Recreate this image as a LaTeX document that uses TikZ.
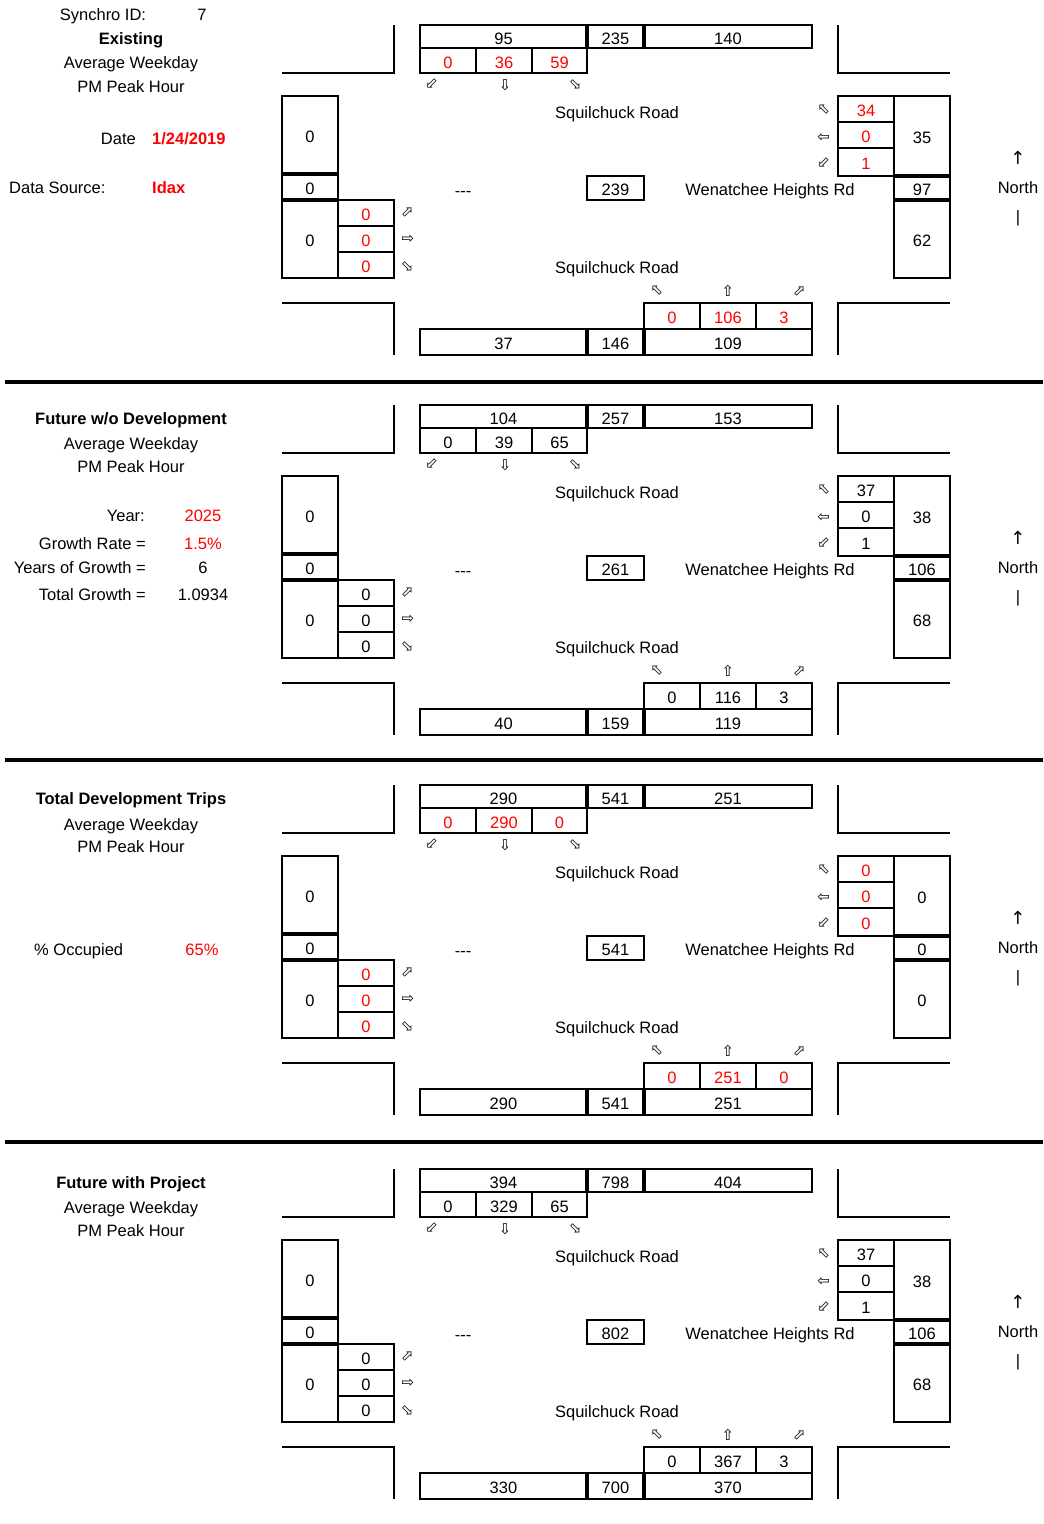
\documentclass[tikz,border=0pt]{standalone}
\usepackage{fontspec}
\setmainfont{Liberation Sans}
\newfontfamily\arrowfont{DejaVu Sans}
\definecolor{redv}{RGB}{255,0,0}
\tikzset{
  every node/.style={font=\fontsize{16.5}{18}\selectfont, inner sep=0pt, text height=15pt, text depth=0pt},
  box/.style={draw=black, line width=2pt},
  thk/.style={line width=3.6pt},
  sep/.style={line width=4pt},
  mv/.style={text=\mvcolor},
  arr/.style={font=\arrowfont\fontsize{15}{16}\selectfont, text height=10pt, text depth=0pt},
  narr/.style={font=\arrowfont\fontsize{18}{20}\selectfont, text height=13pt, text depth=0pt},
  ttl/.style={font=\fontsize{16.5}{18}\selectfont\bfseries},
  hot/.style={text=redv},
  hotb/.style={text=redv, font=\fontsize{16.5}{18}\selectfont\bfseries},
}
\def\getthree#1/#2/#3\relax{\def\xa{#1}\def\xb{#2}\def\xc{#3}}
\newcommand\cell[7][]{%
  \draw[box] (#3,#4) rectangle (#5,#6);
  \node[#1] (#2) at ({(#3+#5)/2},{(#4+#6)/2}) {#7};}
\newcommand\panel[2]{%
\begin{scope}[shift={(0,#2)}]
  % corner kerbs
  \draw[box] (394,25) -- (394,73) -- (282,73);
  \draw[box] (838,25) -- (838,73) -- (950,73);
  \draw[box] (282,303) -- (394,303) -- (394,355);
  \draw[box] (950,303) -- (838,303) -- (838,355);
  % north leg
  \expandafter\getthree\Top\relax
  \cell{#1-nin}{420}{25}{587}{48}{\xa}
  \cell{#1-ntot}{587}{25}{644}{48}{\xb}
  \cell{#1-nout}{644}{25}{812}{48}{\xc}
  \expandafter\getthree\SB\relax
  \cell[mv]{#1-sbr}{420}{48}{476}{73}{\xa}
  \cell[mv]{#1-sbt}{476}{48}{532}{73}{\xb}
  \cell[mv]{#1-sbl}{532}{48}{587}{73}{\xc}
  \draw[thk] (587,25) -- (587,48) (644,25) -- (644,48);
  % south leg
  \expandafter\getthree\NB\relax
  \cell[mv]{#1-nbl}{644}{303}{700}{329}{\xa}
  \cell[mv]{#1-nbt}{700}{303}{756}{329}{\xb}
  \cell[mv]{#1-nbr}{756}{303}{812}{329}{\xc}
  \expandafter\getthree\Bot\relax
  \cell{#1-sout}{420}{329}{587}{355}{\xa}
  \cell{#1-stot}{587}{329}{644}{355}{\xb}
  \cell{#1-sin}{644}{329}{812}{355}{\xc}
  \draw[thk] (587,329) -- (587,355) (644,329) -- (644,355);
  % west leg
  \expandafter\getthree\Wcol\relax
  \cell{#1-wout}{282}{96}{338}{174}{\xa}
  \cell{#1-wtot}{282}{174}{338}{200}{\xb}
  \cell{#1-win}{282}{200}{338}{278}{\xc}
  \expandafter\getthree\EB\relax
  \cell[mv]{#1-ebl}{338}{200}{394}{226}{\xa}
  \cell[mv]{#1-ebt}{338}{226}{394}{252}{\xb}
  \cell[mv]{#1-ebr}{338}{252}{394}{278}{\xc}
  \draw[thk] (282,174) -- (338,174) (282,200) -- (338,200);
  % east leg
  \expandafter\getthree\WB\relax
  \cell[mv]{#1-wbr}{838}{96}{894}{122}{\xa}
  \cell[mv]{#1-wbt}{838}{122}{894}{148}{\xb}
  \cell[mv]{#1-wbl}{838}{148}{894}{176}{\xc}
  \expandafter\getthree\Ecol\relax
  \cell{#1-ein}{894}{96}{950}{176}{\xa}
  \cell{#1-etot}{894}{176}{950}{200}{\xb}
  \cell{#1-eout}{894}{200}{950}{278}{\xc}
  \draw[thk] (894,176) -- (950,176) (894,200) -- (950,200);
  % centre
  \node (#1-dash) at (463,189) {-{}-{}-};
  \cell{#1-mid}{587}{176}{644}{200}{\Mid}
  % road names
  \node (#1-rdn) at (617,111) {Squilchuck Road};
  \node (#1-rds) at (617,266) {Squilchuck Road};
  \node (#1-rdw) at (770,188) {Wenatchee Heights Rd};
  % movement arrows
  \node[arr,rotate=135] (#1-asbr) at (432,84) {⇧};
  \node[arr,rotate=180] (#1-asbt) at (505,84) {⇧};
  \node[arr,rotate=-135] (#1-asbl) at (575,84) {⇧};
  \node[arr,rotate=45] (#1-awbr) at (824,110) {⇧};
  \node[arr,rotate=90] (#1-awbt) at (824,137) {⇧};
  \node[arr,rotate=135] (#1-awbl) at (824,163) {⇧};
  \node[arr,rotate=-45] (#1-aebl) at (407,212) {⇧};
  \node[arr,rotate=-90] (#1-aebt) at (407,239) {⇧};
  \node[arr,rotate=-135] (#1-aebr) at (407,266) {⇧};
  \node[arr,rotate=45] (#1-anbl) at (657,291) {⇧};
  \node[arr] (#1-anbt) at (728,291) {⇧};
  \node[arr,rotate=-45] (#1-anbr) at (799,291) {⇧};
  % north sign
  \node[narr] (#1-narrow) at (1018,158) {↑};
  \node (#1-north) at (1018,186) {North};
  \node (#1-nbar) at (1018,215) {|};
\end{scope}}
\begin{document}
\begin{tikzpicture}[x=1pt,y=-1pt]
\useasboundingbox[fill=white] (0,0) rectangle (1044,1524);
% separators
\draw[sep] (5,382) -- (1043,382);
\draw[sep] (5,760) -- (1043,760);
\draw[sep] (5,1142) -- (1043,1142);

% ---------- Panel 1: Existing ----------
\def\mvcolor{redv}
\def\Top{95/235/140}\def\SB{0/36/59}\def\NB{0/106/3}\def\Bot{37/146/109}
\def\Wcol{0/0/0}\def\EB{0/0/0}\def\WB{34/0/1}\def\Ecol{35/97/62}\def\Mid{239}
\panel{p1}{0}
\node (p1-sid) at (103,13) {Synchro ID:};
\node (p1-sidv) at (202,13) {7};
\node[ttl] (p1-title) at (131,37) {Existing};
\node (p1-day) at (131,61) {Average Weekday};
\node (p1-hour) at (131,85) {PM Peak Hour};
\node[anchor=east] (p1-date) at (136,137) {Date};
\node[hotb,anchor=west] (p1-datev) at (152,137) {1/24/2019};
\node[anchor=west] (p1-src) at (9,186) {Data Source:};
\node[hotb,anchor=west] (p1-srcv) at (152,186) {Idax};

% ---------- Panel 2: Future w/o Development ----------
\def\mvcolor{black}
\def\Top{104/257/153}\def\SB{0/39/65}\def\NB{0/116/3}\def\Bot{40/159/119}
\def\Wcol{0/0/0}\def\EB{0/0/0}\def\WB{37/0/1}\def\Ecol{38/106/68}\def\Mid{261}
\panel{p2}{380}
\node[ttl] (p2-title) at (131,417) {Future w/o Development};
\node (p2-day) at (131,442) {Average Weekday};
\node (p2-hour) at (131,465) {PM Peak Hour};
\node[anchor=east] (p2-year) at (145,514) {Year:};
\node[hot] (p2-yearv) at (203,514) {2025};
\node[anchor=east] (p2-rate) at (146,542) {Growth Rate =};
\node[hot] (p2-ratev) at (203,542) {1.5\%};
\node[anchor=east] (p2-yrs) at (146,566) {Years of Growth =};
\node (p2-yrsv) at (203,566) {6};
\node[anchor=east] (p2-tot) at (146,593) {Total Growth =};
\node (p2-totv) at (203,593) {1.0934};

% ---------- Panel 3: Total Development Trips ----------
\def\mvcolor{redv}
\def\Top{290/541/251}\def\SB{0/290/0}\def\NB{0/251/0}\def\Bot{290/541/251}
\def\Wcol{0/0/0}\def\EB{0/0/0}\def\WB{0/0/0}\def\Ecol{0/0/0}\def\Mid{541}
\panel{p3}{760}
\node[ttl] (p3-title) at (131,797) {Total Development Trips};
\node (p3-day) at (131,823) {Average Weekday};
\node (p3-hour) at (131,845) {PM Peak Hour};
\node[anchor=west] (p3-occ) at (34,948) {\% Occupied};
\node[hot] (p3-occv) at (202,948) {65\%};

% ---------- Panel 4: Future with Project ----------
\def\mvcolor{black}
\def\Top{394/798/404}\def\SB{0/329/65}\def\NB{0/367/3}\def\Bot{330/700/370}
\def\Wcol{0/0/0}\def\EB{0/0/0}\def\WB{37/0/1}\def\Ecol{38/106/68}\def\Mid{802}
\panel{p4}{1144}
\node[ttl] (p4-title) at (131,1181) {Future with Project};
\node (p4-day) at (131,1206) {Average Weekday};
\node (p4-hour) at (131,1229) {PM Peak Hour};
\end{tikzpicture}
\end{document}
